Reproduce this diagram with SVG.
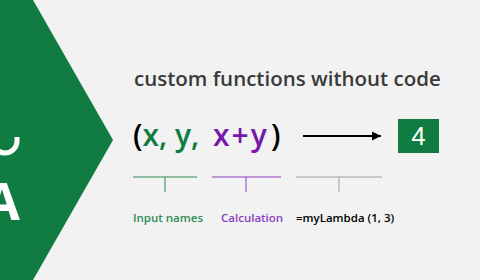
<svg xmlns="http://www.w3.org/2000/svg" width="480" height="280" viewBox="0 0 480 280">
  <defs>
    <style>
      .t{font-family:"Open Sans","Noto Sans","DejaVu Sans",sans-serif}
      .g{fill:#107c41}
      .p{fill:#7719aa}
      .lbl{font-size:11.5px;font-weight:600}
    </style>
    <marker id="ah" markerWidth="10" markerHeight="10" refX="9" refY="4.5" orient="auto" markerUnits="userSpaceOnUse">
      <path d="M0,0 L9,4.5 L0,9 Z" fill="#000"/>
    </marker>
  </defs>
  <rect width="480" height="280" fill="#f2f2f2"/>
  <g id="banner">
    <polygon points="0,0 33,0 113,140 33,280 0,280" fill="#107c41"/>
    <path d="M17,137 L17,141 A12,12 0 0 1 -7,141" fill="none" stroke="#fff" stroke-width="5"/>
    <text class="t" x="-16" y="220" font-size="52" font-weight="700" fill="#fff">A</text>
  </g>
  <g id="title">
    <text class="t" x="134" y="86" font-size="20.5" font-weight="600" fill="#3a3a3a">custom functions without code</text>
  </g>
  <g id="formula">
    <text class="t" x="133" y="146" font-size="30" font-weight="600" fill="#000">(<tspan class="g">x, y,</tspan><tspan class="p" x="213" letter-spacing="2">x+y</tspan><tspan x="271">)</tspan></text>
  </g>
  <g id="result">
    <rect x="398" y="119" width="41" height="34" fill="#107c41"/>
    <text x="418.5" y="145" font-family="'Liberation Sans',Arial,sans-serif" font-size="26" fill="#fff" text-anchor="middle">4</text>
  </g>
  <g id="connectors">
    <line x1="303" y1="136" x2="381" y2="136" stroke="#000" stroke-width="2" marker-end="url(#ah)"/>
    <path d="M133,177 H197 M165,177 V192" stroke="#2e8b57" stroke-width="1" fill="none"/>
    <path d="M212,177 H281 M246,177 V192" stroke="#8a3fc0" stroke-width="1" fill="none"/>
    <path d="M296,177 H382 M339,177 V192" stroke="#a0a0a0" stroke-width="1" fill="none"/>
  </g>
  <g id="labels">
    <text class="t lbl" x="133" y="222" fill="#2e8b57">Input names</text>
    <text class="t lbl" x="221" y="222" fill="#8a3fc0">Calculation</text>
    <text class="t lbl" x="296" y="222" fill="#000">=myLambda (1, 3)</text>
  </g>
</svg>
